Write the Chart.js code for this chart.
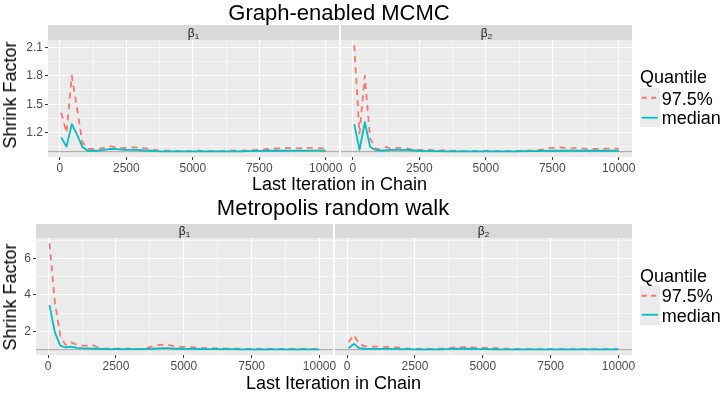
<!DOCTYPE html>
<html>
<head>
<meta charset="utf-8">
<script src="https://cdn.jsdelivr.net/npm/chart.js@4.4.0/dist/chart.umd.min.js"></script>
<style>
  html, body { margin: 0; padding: 0; background: #fff; }
  #wrap { position: relative; width: 727px; height: 396px; overflow: hidden;
          font-family: "Liberation Sans", Arial, Helvetica, sans-serif; }
  #wrap canvas { position: absolute; left: 0; top: 0; }
  .txt { position: absolute; white-space: nowrap; }
  .strip { position: absolute; background: #D9D9D9; }
  .key { position: absolute; background: #EBEBEB; }
</style>
</head>
<body>
<div id="wrap"></div>
<script>
// last iteration of each segment (gelman.plot bins)
const iterations = [51, 250, 449, 648, 847, 1046, 1245, 1444, 1643, 1842,
  2041, 2240, 2439, 2638, 2837, 3036, 3235, 3434, 3633, 3832,
  4031, 4230, 4429, 4628, 4827, 5026, 5225, 5424, 5623, 5822,
  6021, 6220, 6419, 6618, 6817, 7016, 7215, 7414, 7613, 7812,
  8011, 8210, 8409, 8608, 8807, 9006, 9205, 9404, 9603, 9802, 10000];

// Graph-enabled MCMC
const gemBeta1Upper = [1.41, 1.20, 1.80, 1.45, 1.10, 1.03, 1.03, 1.03, 1.04, 1.06,
  1.05, 1.04, 1.04, 1.045, 1.045, 1.04, 1.035, 1.025, 1.015, 1.01,
  1.01, 1.005, 1.005, 1.005, 1.005, 1.005, 1.01, 1.005, 1.005, 1.005,
  1.005, 1.005, 1.01, 1.01, 1.01, 1.01, 1.015, 1.02, 1.02, 1.03,
  1.03, 1.035, 1.035, 1.04, 1.04, 1.035, 1.04, 1.04, 1.035, 1.035, 1.035];
const gemBeta1Median = [1.15, 1.055, 1.29, 1.18, 1.05, 1.01, 1.01, 1.012, 1.018, 1.028,
  1.03, 1.025, 1.02, 1.02, 1.018, 1.015, 1.012, 1.01, 1.005, 1.004,
  1.003, 1.003, 1.003, 1.003, 1.003, 1.003, 1.004, 1.003, 1.003, 1.003,
  1.003, 1.003, 1.004, 1.004, 1.004, 1.005, 1.006, 1.008, 1.009, 1.01,
  1.01, 1.01, 1.01, 1.012, 1.012, 1.012, 1.012, 1.012, 1.012, 1.012, 1.012];
const gemBeta2Upper = [2.12, 1.19, 1.80, 1.14, 1.035, 1.02, 1.05, 1.03, 1.04, 1.04,
  1.035, 1.02, 1.02, 1.02, 1.02, 1.015, 1.01, 1.015, 1.01, 1.008,
  1.006, 1.005, 1.005, 1.008, 1.005, 1.01, 1.005, 1.005, 1.005, 1.005,
  1.005, 1.008, 1.01, 1.01, 1.012, 1.02, 1.025, 1.04, 1.04, 1.045,
  1.04, 1.035, 1.04, 1.035, 1.03, 1.03, 1.03, 1.03, 1.035, 1.035, 1.03];
const gemBeta2Median = [1.29, 1.02, 1.31, 1.05, 1.02, 1.01, 1.015, 1.02, 1.02, 1.02,
  1.02, 1.015, 1.01, 1.008, 1.006, 1.005, 1.005, 1.004, 1.004, 1.003,
  1.003, 1.003, 1.003, 1.003, 1.003, 1.003, 1.003, 1.003, 1.003, 1.003,
  1.004, 1.004, 1.005, 1.005, 1.006, 1.007, 1.008, 1.01, 1.01, 1.01,
  1.01, 1.01, 1.01, 1.01, 1.01, 1.01, 1.01, 1.01, 1.01, 1.01, 1.01];

// Metropolis random walk
const mrwBeta1Upper = [6.82, 3.6, 1.75, 1.25, 1.4, 1.28, 1.22, 1.22, 1.25, 1.12,
  1.06, 1.05, 1.05, 1.06, 1.05, 1.05, 1.04, 1.04, 1.08, 1.18,
  1.25, 1.27, 1.26, 1.2, 1.15, 1.15, 1.14, 1.12, 1.1, 1.08,
  1.08, 1.07, 1.07, 1.06, 1.05, 1.05, 1.05, 1.04, 1.04, 1.04,
  1.04, 1.04, 1.04, 1.04, 1.04, 1.04, 1.04, 1.04, 1.04, 1.04, 1.04];
const mrwBeta1Median = [3.44, 1.95, 1.22, 1.12, 1.17, 1.1, 1.08, 1.07, 1.06, 1.05,
  1.03, 1.03, 1.03, 1.03, 1.03, 1.03, 1.03, 1.03, 1.04, 1.05,
  1.07, 1.08, 1.08, 1.06, 1.05, 1.04, 1.04, 1.04, 1.04, 1.03,
  1.03, 1.03, 1.03, 1.03, 1.03, 1.02, 1.02, 1.02, 1.02, 1.02,
  1.02, 1.02, 1.02, 1.02, 1.02, 1.02, 1.02, 1.02, 1.02, 1.02, 1.02];
const mrwBeta2Upper = [1.41, 1.81, 1.3, 1.19, 1.17, 1.17, 1.16, 1.15, 1.13, 1.12,
  1.08, 1.06, 1.05, 1.04, 1.04, 1.04, 1.04, 1.05, 1.06, 1.1,
  1.15, 1.13, 1.17, 1.12, 1.1, 1.1, 1.09, 1.08, 1.08, 1.06,
  1.04, 1.04, 1.03, 1.03, 1.03, 1.03, 1.03, 1.03, 1.03, 1.03,
  1.03, 1.03, 1.03, 1.03, 1.03, 1.03, 1.03, 1.03, 1.03, 1.03, 1.03];
const mrwBeta2Median = [1.08, 1.32, 1.08, 1.05, 1.04, 1.04, 1.04, 1.04, 1.04, 1.03,
  1.03, 1.03, 1.02, 1.02, 1.02, 1.02, 1.02, 1.02, 1.03, 1.04,
  1.05, 1.05, 1.05, 1.04, 1.03, 1.03, 1.03, 1.02, 1.02, 1.02,
  1.02, 1.02, 1.02, 1.02, 1.02, 1.02, 1.02, 1.02, 1.02, 1.02,
  1.02, 1.02, 1.02, 1.02, 1.02, 1.02, 1.02, 1.02, 1.02, 1.02, 1.02];

const xMajor = [0, 2500, 5000, 7500, 10000];
const xMinor = [1250, 3750, 6250, 8750];
const yMajorTop = [1.2, 1.5, 1.8, 2.1];
const yMinorTop = [1.05, 1.35, 1.65, 1.95];
const yMajorBottom = [2, 4, 6];
const yMinorBottom = [1, 3, 5, 7];
const refLine = 1;

const rowTitles = ['Graph-enabled MCMC', 'Metropolis random walk'];
const facetLabels = [['β', '1'], ['β', '2']];
const quantileLabels = ['97.5%', 'median'];
const seriesColors = ['#F8766D', '#00BFC4'];
const xTitle = 'Last Iteration in Chain';
const yTitle = 'Shrink Factor';
const legendTitle = 'Quantile';

const W = 727, H = 396;
const FONT = "'Liberation Sans', Arial, Helvetica, sans-serif";
Chart.defaults.font.family = FONT;
const wrap = document.getElementById('wrap');

// layout of the two stacked plots
const rows = [
  { title: rowTitles[0], titleX: 339, titleBase: 20.5, stripTop: 25, top: 40, bottom: 157,
    panels: [[48, 339], [341, 632]], yMajor: yMajorTop, yMinor: yMinorTop,
    series: [[gemBeta1Upper, gemBeta1Median], [gemBeta2Upper, gemBeta2Median]],
    xLabX: 339.5, xLabBase: 190.7, yLabY: 95, legBase: 83.5, keyTop: 88.3 },
  { title: rowTitles[1], titleX: 333, titleBase: 215.7, stripTop: 224, top: 238, bottom: 355,
    panels: [[36, 333], [335, 632]], yMajor: yMajorBottom, yMinor: yMinorBottom,
    series: [[mrwBeta1Upper, mrwBeta1Median], [mrwBeta2Upper, mrwBeta2Median]],
    xLabX: 333.5, xLabBase: 389, yLabY: 296.5, legBase: 282.3, keyTop: 285.7 }
];

function addText(html, x, base, size, align, color) {
  const d = document.createElement('div');
  d.className = 'txt';
  d.innerHTML = html;
  d.style.fontSize = size + 'px';
  d.style.lineHeight = size + 'px';
  d.style.color = color || '#000';
  d.style.top = (base - 0.8465 * size) + 'px';
  d.style.left = x + 'px';
  if (align === 'center') d.style.transform = 'translateX(-50%)';
  wrap.appendChild(d);
  return d;
}

function addVText(text, base, cy, size) {
  const d = document.createElement('div');
  d.className = 'txt';
  d.textContent = text;
  d.style.fontSize = size + 'px';
  d.style.lineHeight = size + 'px';
  d.style.left = (base - 0.3465 * size) + 'px';
  d.style.top = cy + 'px';
  d.style.transform = 'translate(-50%, -50%) rotate(-90deg)';
  wrap.appendChild(d);
}

const panelBg = {
  id: 'panelBg',
  beforeDraw(chart) {
    const a = chart.chartArea, c = chart.ctx;
    c.save();
    c.fillStyle = '#EBEBEB';
    c.fillRect(a.left, a.top, a.right - a.left, a.bottom - a.top);
    c.restore();
  }
};

const hline = {
  id: 'hline',
  beforeDatasetsDraw(chart) {
    const a = chart.chartArea, c = chart.ctx;
    const y = chart.scales.y.getPixelForValue(refLine);
    c.save();
    c.strokeStyle = '#A3A3A3';
    c.lineWidth = 1;
    c.beginPath();
    c.moveTo(a.left, y);
    c.lineTo(a.right, y);
    c.stroke();
    c.restore();
  }
};

function makePanel(row, idx, yMin, yMax, xMin, xMax) {
  const [left, right] = row.panels[idx];
  const yW = idx === 0 ? 28 : 0;
  const xH = 20;
  const [upper, median] = row.series[idx];
  const cv = document.createElement('canvas');
  cv.width = W; cv.height = H;
  wrap.appendChild(cv);

  const isMajorX = v => xMajor.includes(v);
  const isMajorY = v => row.yMajor.includes(v);

  new Chart(cv, {
    type: 'line',
    data: {
      datasets: [
        { label: quantileLabels[0], data: iterations.map((x, i) => ({ x, y: upper[i] })),
          borderColor: seriesColors[0], borderWidth: 1.8, borderDash: [6, 5],
          pointRadius: 0, tension: 0, borderJoinStyle: 'round', order: 2 },
        { label: quantileLabels[1], data: iterations.map((x, i) => ({ x, y: median[i] })),
          borderColor: seriesColors[1], borderWidth: 1.8,
          pointRadius: 0, tension: 0, borderJoinStyle: 'round', order: 1 }
      ]
    },
    options: {
      responsive: false,
      animation: false,
      events: [],
      layout: { padding: { left: left - yW, top: row.top, right: W - right, bottom: H - row.bottom - xH } },
      plugins: { legend: { display: false }, tooltip: { enabled: false } },
      scales: {
        x: {
          type: 'linear', bounds: 'data', min: xMin, max: xMax,
          afterBuildTicks: s => { s.ticks = xMinor.concat(xMajor).map(v => ({ value: v })); },
          afterFit: s => { s.height = xH; s.paddingLeft = 0; s.paddingRight = 0; },
          border: { display: false },
          grid: {
            color: '#FFFFFF',
            lineWidth: c => (c.tick && isMajorX(c.tick.value)) ? 1.1 : 0.55,
            tickLength: 3,
            tickWidth: 1,
            tickColor: c => (c.tick && isMajorX(c.tick.value)) ? '#333333' : 'rgba(0,0,0,0)'
          },
          ticks: {
            autoSkip: false, maxRotation: 0, minRotation: 0, padding: 1,
            color: '#4D4D4D', font: { size: 12 },
            callback: v => isMajorX(v) ? String(v) : ''
          }
        },
        y: {
          type: 'linear', bounds: 'data', min: yMin, max: yMax,
          afterBuildTicks: s => { s.ticks = row.yMinor.concat(row.yMajor).map(v => ({ value: v })); },
          afterFit: s => { s.width = yW; s.paddingTop = 0; s.paddingBottom = 0; },
          border: { display: false },
          grid: {
            color: '#FFFFFF',
            drawTicks: idx === 0,
            lineWidth: c => (c.tick && isMajorY(c.tick.value)) ? 1.1 : 0.55,
            tickLength: 3,
            tickWidth: 1,
            tickColor: c => (c.tick && isMajorY(c.tick.value)) ? '#333333' : 'rgba(0,0,0,0)'
          },
          ticks: {
            display: idx === 0, autoSkip: false, padding: 2,
            color: '#4D4D4D', font: { size: 12 },
            callback: v => isMajorY(v) ? String(v) : ''
          }
        }
      }
    },
    plugins: [panelBg, hline]
  });

  // facet strip
  const s = document.createElement('div');
  s.className = 'strip';
  s.style.left = left + 'px';
  s.style.top = row.stripTop + 'px';
  s.style.width = (right - left) + 'px';
  s.style.height = (row.top - row.stripTop) + 'px';
  wrap.appendChild(s);
  const [sym, sub] = facetLabels[idx];
  addText(sym + '<span style="font-size:8px;vertical-align:-1.5px">' + sub + '</span>',
    (left + right) / 2, (row.stripTop + row.top) / 2 + 4.5, 12, 'center', '#1A1A1A');
}

const xMinData = Math.min(...iterations), xMaxData = Math.max(...iterations);
const xPad = (xMaxData - xMinData) * 0.05;

rows.forEach(row => {
  const all = row.series.flat(2).concat([refLine]);
  const lo = Math.min(...all), hi = Math.max(...all);
  const yPad = (hi - lo) * 0.05;
  row.panels.forEach((_, idx) => makePanel(row, idx, lo - yPad, hi + yPad, xMinData - xPad, xMaxData + xPad));

  addText(row.title, row.titleX, row.titleBase, 22, 'center');
  addText(xTitle, row.xLabX, row.xLabBase, 18, 'center');
  addVText(yTitle, 16, row.yLabY, 18);

  // legend
  addText(legendTitle, 640, row.legBase, 18, 'left');
  quantileLabels.forEach((lab, i) => {
    const k = document.createElement('div');
    k.className = 'key';
    const kt = row.keyTop + i * 19.5;
    k.style.left = '640px';
    k.style.top = kt + 'px';
    k.style.width = '19.5px';
    k.style.height = '19.5px';
    const dash = i === 0 ? ' stroke-dasharray="5,4.5"' : '';
    k.innerHTML = '<svg width="19.5" height="19.5" style="display:block"><line x1="1.7" y1="9.75" x2="17.8" y2="9.75" stroke="' +
      seriesColors[i] + '" stroke-width="1.8"' + dash + '/></svg>';
    wrap.appendChild(k);
    addText(lab, 661.7, kt + 16.7, 18, 'left');
  });
});
</script>
</body>
</html>
